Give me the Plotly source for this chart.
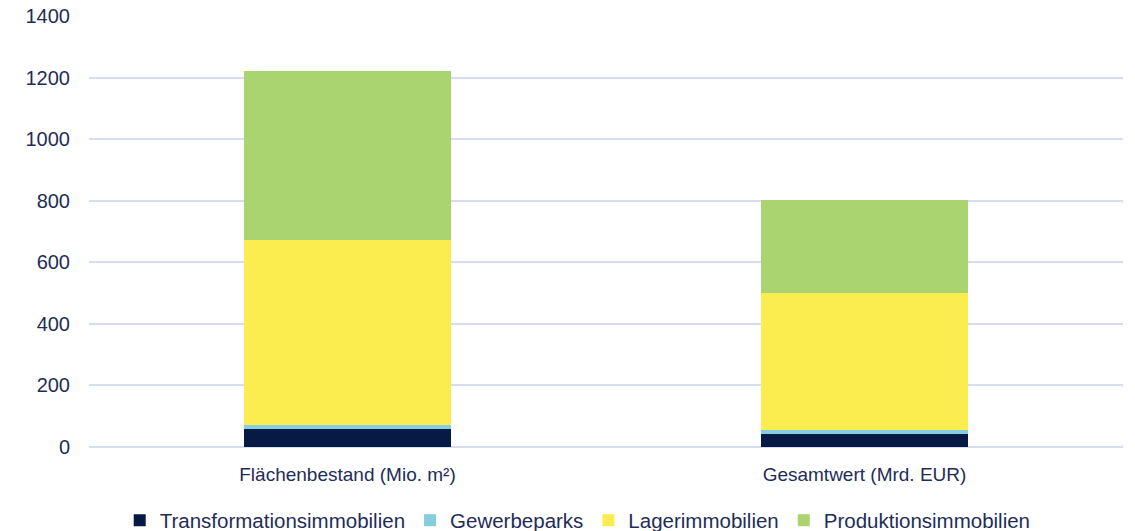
import plotly.graph_objects as go

categories = ["Flächenbestand (Mio. m²)", "Gesamtwert (Mrd. EUR)"]
series_names = ["Transformationsimmobilien", "Gewerbeparks", "Lagerimmobilien", "Produktionsimmobilien"]
transformation = [59, 41]
gewerbeparks = [13, 15]
lager = [600, 444]
produktion = [550, 302]
colors = ["#071a46", "#86cddf", "#fbed50", "#a9d46f"]
tick_vals = [0, 200, 400, 600, 800, 1000, 1200, 1400]

text_color = "#1e2d58"
fig = go.Figure()
for name, vals, col in zip(series_names, [transformation, gewerbeparks, lager, produktion], colors):
    fig.add_trace(go.Bar(x=categories, y=vals, name=name, marker=dict(color=col, line=dict(width=0)), width=0.4))

fig.update_layout(
    barmode="stack",
    width=1135, height=531,
    margin=dict(l=89, r=12, t=16, b=84, autoexpand=False),
    paper_bgcolor="white", plot_bgcolor="white",
    font=dict(family="Liberation Sans, Arial, sans-serif", size=19, color=text_color),
    yaxis=dict(range=[0, 1400], tickvals=tick_vals, gridcolor="#d6ddf0", gridwidth=1.5,
               zeroline=True, zerolinecolor="#d6ddf0", zerolinewidth=2, ticks="", ticklen=0,
               tickfont=dict(size=20), showline=False, ticklabelstandoff=18),
    xaxis=dict(showgrid=False, tickfont=dict(size=19), ticks="", showline=False,
               ticklabelstandoff=14),
    showlegend=True,
    legend=dict(orientation="h", xref="container", yref="container", x=0.509, xanchor="center",
                y=0.02, yanchor="middle", font=dict(size=20.5), traceorder="normal",
                itemwidth=30),
    bargap=0.6,
)
fig.write_html("out.html")
